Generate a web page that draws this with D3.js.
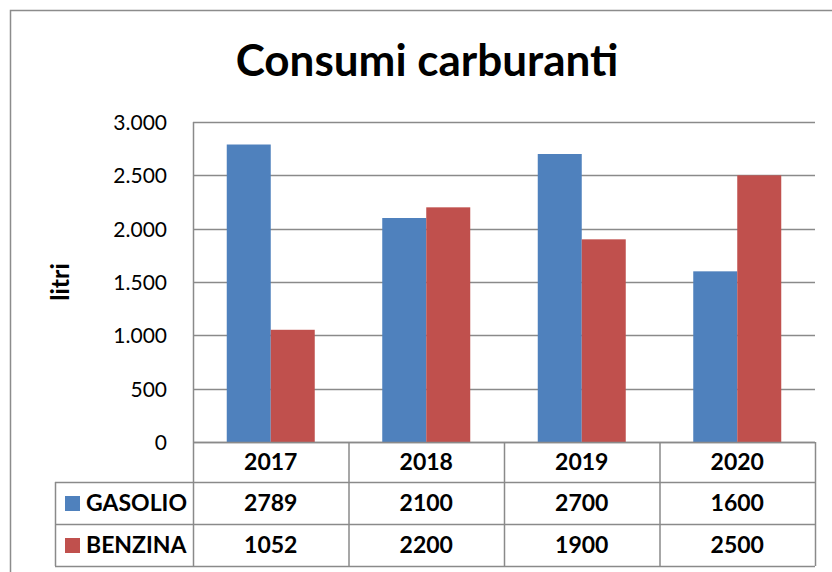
<!DOCTYPE html>
<html>
<head>
<meta charset="utf-8">
<script src="https://cdn.jsdelivr.net/npm/d3@7"></script>
<style>
  body { margin: 0; background: #fff; }
  svg { display: block; font-family: Lato, "Open Sans", sans-serif; }
</style>
</head>
<body>
<svg id="chart" width="832" height="572"></svg>
<script>
const years = ['2017', '2018', '2019', '2020'];
const gasolio = [2789, 2100, 2700, 1600];
const benzina = [1052, 2200, 1900, 2500];
const seriesNames = ['GASOLIO', 'BENZINA'];
const seriesColors = ['#4f81bd', '#c0504d'];
const yTicks = [0, 500, 1000, 1500, 2000, 2500, 3000];

const svg = d3.select('#chart'),
  plotL = 193,
  plotR = 815,
  plotT = 122,
  plotB = 442,
  rowH = [40, 42, 42],
  gridColor = '#8a8a8a';

const series = [gasolio, benzina];

// outer chart frame (cut off on the right and bottom)
svg.append('path')
  .attr('d', 'M10.5,572 V10.5 H832')
  .attr('fill', 'none')
  .attr('stroke', '#8c8c8c')
  .attr('stroke-width', 1.5);

svg.append('text')
  .attr('x', 427)
  .attr('y', 76)
  .attr('text-anchor', 'middle')
  .style('font-size', '44px')
  .style('font-weight', '700')
  .text('Consumi carburanti');

const x = d3.scaleBand().domain(years).range([plotL, plotR]);
const y = d3.scaleLinear().domain([0, 3000]).range([plotB, plotT]);
const xs = d3.scaleBand().domain(seriesNames).range([0, 88]);

// gridlines
svg.append('g')
  .selectAll('line')
  .data(yTicks)
  .join('line')
  .attr('x1', plotL)
  .attr('x2', plotR)
  .attr('y1', d => Math.round(y(d)) + 0.5)
  .attr('y2', d => Math.round(y(d)) + 0.5)
  .attr('stroke', gridColor)
  .attr('stroke-width', 1.5);

// y tick labels
svg.append('g')
  .selectAll('text')
  .data(yTicks)
  .join('text')
  .attr('x', 167)
  .attr('y', d => y(d) + 8)
  .attr('text-anchor', 'end')
  .style('font-size', '21px')
  .text(d => d3.format(',')(d).replace(/,/g, '.'));

svg.append('text')
  .attr('transform', 'translate(69,282) rotate(-90)')
  .attr('text-anchor', 'middle')
  .style('font-size', '25px')
  .style('font-weight', '700')
  .text('litri');

// bars
series.forEach((vals, si) => {
  svg.append('g')
    .selectAll('rect')
    .data(vals)
    .join('rect')
    .attr('x', (d, i) => x(years[i]) + (x.bandwidth() - 88) / 2 + xs(seriesNames[si]))
    .attr('y', d => y(d))
    .attr('width', xs.bandwidth())
    .attr('height', d => plotB - y(d))
    .attr('fill', seriesColors[si]);
});

// left axis line
svg.append('line')
  .attr('x1', plotL + 0.5).attr('x2', plotL + 0.5)
  .attr('y1', plotT).attr('y2', plotB + rowH[0] + rowH[1] + rowH[2])
  .attr('stroke', gridColor)
  .attr('stroke-width', 1.5);

// data table
const tbl = svg.append('g').attr('stroke', gridColor).attr('stroke-width', 1.5).attr('fill', 'none');
const r1 = plotB + rowH[0], r2 = r1 + rowH[1], r3 = r2 + rowH[2];
[plotB, r1, r2, r3].forEach((yy, i) => {
  tbl.append('line')
    .attr('x1', i === 0 ? plotL : 55).attr('x2', plotR)
    .attr('y1', yy + 0.5).attr('y2', yy + 0.5);
});
tbl.append('line').attr('x1', 55.5).attr('x2', 55.5).attr('y1', r1).attr('y2', r3);
years.forEach(yr => {
  const xx = x(yr) + x.bandwidth();
  tbl.append('line').attr('x1', xx + 0.5).attr('x2', xx + 0.5).attr('y1', plotB).attr('y2', r3);
});

const txt = svg.append('g').style('font-size', '23px').style('font-weight', '700');
txt.selectAll('.yr')
  .data(years)
  .join('text')
  .attr('x', d => x(d) + x.bandwidth() / 2)
  .attr('y', plotB + rowH[0] / 2 + 8)
  .attr('text-anchor', 'middle')
  .text(d => d);

[r1, r2].forEach((ry, si) => {
  const h = rowH[si + 1];
  svg.append('rect')
    .attr('x', 65).attr('y', ry + h / 2 - 7)
    .attr('width', 15).attr('height', 15)
    .attr('fill', seriesColors[si]);
  txt.append('text')
    .attr('x', 86)
    .attr('y', ry + h / 2 + 8)
    .text(seriesNames[si]);
  txt.append('g')
    .selectAll('text')
    .data(series[si])
    .join('text')
    .attr('x', (d, i) => x(years[i]) + x.bandwidth() / 2)
    .attr('y', ry + h / 2 + 8)
    .attr('text-anchor', 'middle')
    .text(d => d);
});
</script>
</body>
</html>
